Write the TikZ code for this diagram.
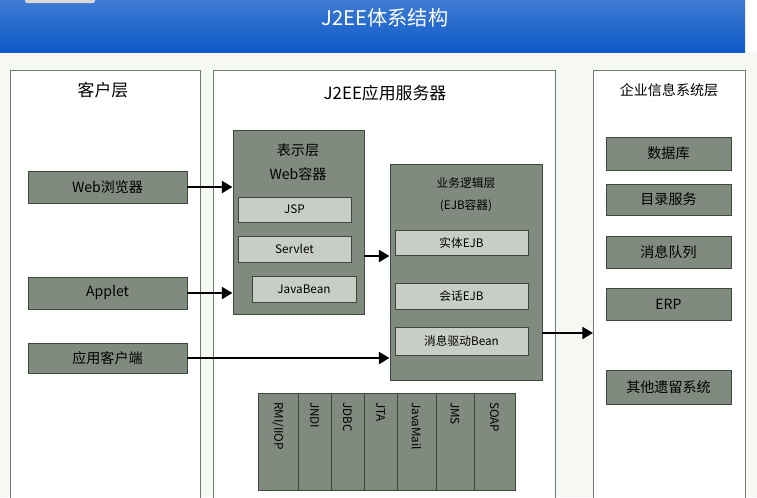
\documentclass[tikz,border=0pt]{standalone}
\usepackage{fontspec}
\setmainfont{Noto Sans CJK SC}
\usetikzlibrary{positioning,arrows.meta,calc}
\definecolor{bandblue}{RGB}{14,90,200}
\definecolor{boxgray}{RGB}{128,138,126}
\definecolor{boxline}{RGB}{60,74,60}
\definecolor{innergray}{RGB}{200,206,198}
\definecolor{panelline}{RGB}{110,125,110}
\definecolor{bgpaper}{RGB}{246,248,244}

\begin{document}
\begin{tikzpicture}[x=0.03cm, y=-0.03cm,
    panel/.style={draw=panelline, thick, fill=white},
    box/.style={draw=boxline, thick, fill=boxgray, font=\large, inner sep=0pt},
    inbox/.style={draw=boxline, fill=innergray, font=\normalsize, inner sep=0pt},
    title/.style={font=\Large},
    arrow/.style={-{Triangle[length=9pt,width=10pt]}, line width=2.5pt, black}
]
\useasboundingbox (0,0) rectangle (757,497);
\fill[bgpaper] (0,52) rectangle (757,497);
\shade[top color=bandblue!80!white, bottom color=bandblue] (0,0) rectangle (745,52);
\fill[gray!30, rounded corners=2pt] (25,-5) rectangle (95,3);
\node[text=white, font=\LARGE] (head) at (385,18) {J2EE体系结构};

% Panels
\draw[panel] (10,70) rectangle (200,500);
\draw[panel] (213,70) rectangle (555,500);
\draw[panel] (593,70) rectangle (745,500);
\node[title] (clienthead) at (103,90) {客户层};
\node[title, font=\Large] (serverhead) at (385,93) {J2EE应用服务器};
\node[title, font=\large] (eishead) at (669,90) {企业信息系统层};

% Client tier
\node[box, minimum width=159*0.03cm, minimum height=32*0.03cm] (browser) at (107.5,187) {Web浏览器};
\node[box, minimum width=159*0.03cm, minimum height=32*0.03cm] (applet) at (107.5,293) {Applet};
\node[box, minimum width=159*0.03cm, minimum height=30*0.03cm] (appclient) at (107.5,358) {应用客户端};

% Web container
\node[box, minimum width=131*0.03cm, minimum height=184*0.03cm] (web) at (298.5,222) {};
\node[font=\large] (webtitle) at (298,150) {表示层};
\node[font=\large] (webtitle2) at (298,174) {Web容器};
\node[inbox, minimum width=113*0.03cm, minimum height=25*0.03cm] (jsp) at (294.5,209.5) {JSP};
\node[inbox, minimum width=113*0.03cm, minimum height=26*0.03cm] (servlet) at (294.5,249) {Servlet};
\node[inbox, minimum width=104*0.03cm, minimum height=26*0.03cm] (javabean) at (304,289) {JavaBean};

% EJB container
\node[box, minimum width=152*0.03cm, minimum height=216*0.03cm] (ejb) at (466,272) {};
\node[font=\normalsize] (ejbtitle) at (466,183) {业务逻辑层};
\node[font=\normalsize] (ejbtitle2) at (466,206) {(EJB容器)};
\node[inbox, minimum width=133*0.03cm, minimum height=25*0.03cm] (entity) at (461.5,242.5) {实体EJB};
\node[inbox, minimum width=133*0.03cm, minimum height=26*0.03cm] (session) at (461.5,296) {会话EJB};
\node[inbox, minimum width=133*0.03cm, minimum height=28*0.03cm] (mdb) at (461.5,341) {消息驱动Bean};

% Services strip
\draw[boxline, thick, fill=boxgray] (258,393) rectangle (515,490);
\foreach \xa/\xb/\name in {258/298/{RMI/IIOP}, 298/331/JNDI, 331/364/JDBC, 364/397/JTA, 397/436/JavaMail, 436/474/JMS, 474/515/SOAP} {
  \draw[boxline, thick] (\xb,393) -- (\xb,490);
  \node[rotate=-90, anchor=west, font=\normalsize] at ({(\xa+\xb)/2},398) {\name};
}

% EIS tier
\node[box, minimum width=125*0.03cm, minimum height=33*0.03cm] (db) at (668.5,153.5) {数据库};
\node[box, minimum width=125*0.03cm, minimum height=31*0.03cm] (dir) at (668.5,199.5) {目录服务};
\node[box, minimum width=125*0.03cm, minimum height=32*0.03cm] (mq) at (668.5,252) {消息队列};
\node[box, minimum width=125*0.03cm, minimum height=32*0.03cm] (erp) at (668.5,304) {ERP};
\node[box, minimum width=125*0.03cm, minimum height=34*0.03cm] (legacy) at (668.5,387) {其他遗留系统};

% Arrows
\draw[arrow] (browser.east) -- (browser.east -| web.west);
\draw[arrow] (applet.east) -- (applet.east -| web.west);
\draw[arrow] (appclient.east) -- (appclient.east -| ejb.west);
\draw[arrow] (web.east |- 0,256) -- (ejb.west |- 0,256);
\draw[arrow] (ejb.east |- 0,333) -- (593,333);
\end{tikzpicture}
\end{document}
